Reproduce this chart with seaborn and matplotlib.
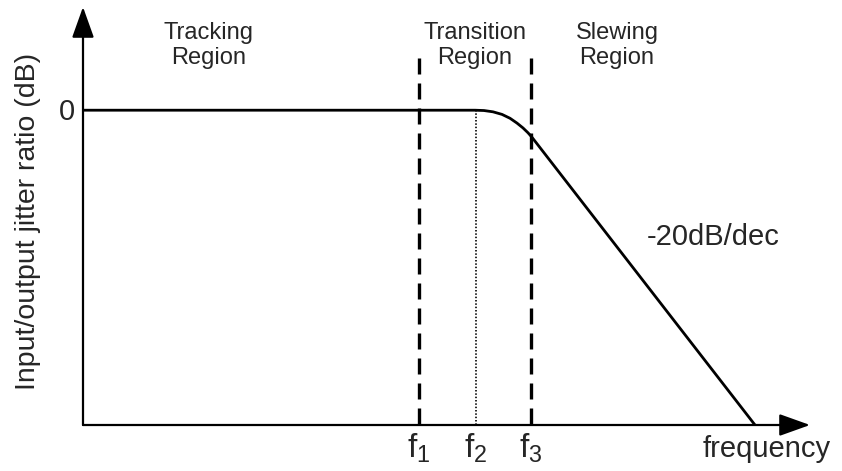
import matplotlib
matplotlib.use("Agg")
import matplotlib.pyplot as plt
import seaborn as sns
import pandas as pd

# Frequency positions (decades from the origin) and jitter ratio (dB)
freq = [0.0, 3.92, 4.01, 4.10, 4.19, 4.27, 4.34, 4.40, 4.45, 4.49, 6.72]
ratio_db = [0.0, 0.0, -0.05, -0.25, -0.65, -1.25, -2.0, -2.75, -3.5, -4.2, -48.8]

# Region boundaries
f_marks = [3.36, 3.93, 4.48]
f_labels = [r"$\mathregular{f_1}$", r"$\mathregular{f_2}$", r"$\mathregular{f_3}$"]
f_styles = ["dashed", "dotted", "dashed"]

regions = ["Tracking\nRegion", "Transition\nRegion", "Slewing\nRegion"]
region_x = [1.26, 3.92, 5.34]

slope_label = "-20dB/dec"
x_label = "frequency"
y_label = "Input/output jitter ratio (dB)"

sns.set_theme(style="white")
plt.rcParams["font.family"] = ["Liberation Sans", "DejaVu Sans"]
plt.rcParams["mathtext.fontset"] = "custom"
plt.rcParams["mathtext.rm"] = "Liberation Sans"

fig = plt.figure(figsize=(8.42, 4.71), dpi=100)
ax = fig.add_axes([83 / 842, 46 / 471, 727 / 842, 418 / 471])
xmin, xmax = 0.0, 7.27
ymin, ymax = -48.8, 16.0
ax.set_xlim(xmin, xmax)
ax.set_ylim(ymin, ymax)
for s in ax.spines.values():
    s.set_visible(False)
ax.set_xticks([])
ax.set_yticks([])

df = pd.DataFrame({"f": freq, "db": ratio_db})
sns.lineplot(data=df, x="f", y="db", ax=ax, color="black", lw=2.0,
             sort=False, legend=False)
ax.set_xlabel("")
ax.set_ylabel("")

# Axis arrows
arrow = dict(arrowstyle="-|>,head_length=1.9,head_width=0.68", lw=1.6,
             color="black", shrinkA=0, shrinkB=0, mutation_scale=10)
ax.annotate("", xy=(xmax, ymin), xytext=(xmin, ymin), arrowprops=arrow,
            annotation_clip=False)
ax.annotate("", xy=(xmin, ymax), xytext=(xmin, ymin), arrowprops=arrow,
            annotation_clip=False)

# Boundary lines (drawn top-down so the dash pattern starts at the top)
for fx, st in zip(f_marks, f_styles):
    if st == "dashed":
        ax.plot([fx, fx], [8.1, ymin], color="black", lw=2.4,
                dashes=(4.8, 2.7), clip_on=False)
    else:
        ax.plot([fx, fx], [0.0, ymin], color="black", lw=1.2,
                dashes=(0.9, 1.1), clip_on=False)

for fx, lab in zip(f_marks, f_labels):
    ax.text(fx, -49.8, lab, ha="center", va="top", fontsize=24)
ax.text(6.84, -50.4, x_label, ha="center", va="top", fontsize=21)

for rx, lab in zip(region_x, regions):
    ax.text(rx, 10.0, lab, ha="center", va="center", fontsize=17,
            linespacing=1.15)

ax.text(6.30, -19.7, slope_label, ha="center", va="center", fontsize=21)
ax.text(-0.08, -0.3, "0", ha="right", va="center", fontsize=21)
ax.text(-0.55, -17.2, y_label, ha="center", va="center", rotation=90,
        fontsize=20.5)

fig.savefig("out.png", dpi=100)
